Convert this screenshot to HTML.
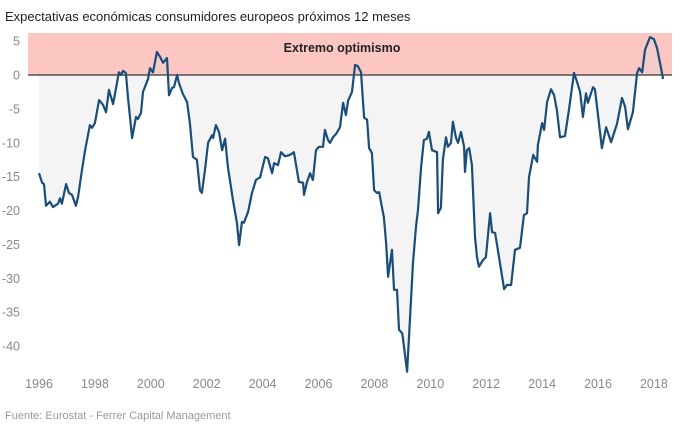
<!DOCTYPE html>
<html><head><meta charset="utf-8"><style>
html,body{margin:0;padding:0;background:#fff;}
body{width:680px;height:431px;overflow:hidden;font-family:"Liberation Sans",sans-serif;}
</style></head><body>
<svg id="chart" width="680" height="431" viewBox="0 0 680 431" xmlns="http://www.w3.org/2000/svg">
<text x="5" y="21" font-size="13" fill="#222" font-family="Liberation Sans, sans-serif">Expectativas económicas consumidores europeos próximos 12 meses</text>
<rect x="28" y="33" width="644" height="42" fill="#fcc7c3"/>
<text x="342" y="52" font-size="12.5" font-weight="bold" fill="#222" text-anchor="middle" font-family="Liberation Sans, sans-serif">Extremo optimismo</text>
<g id="yticks"></g><g id="xticks"></g>
<path id="area" fill="#d9d9d9" fill-opacity="0.3"/>
<line id="zero" x1="28" x2="672" stroke="#333" stroke-width="1.2"/>
<path id="line" fill="none" stroke="#1a4d78" stroke-width="2.2" stroke-linejoin="round"/>
<text x="5" y="419" font-size="11" fill="#999" font-family="Liberation Sans, sans-serif">Fuente: Eurostat - Ferrer Capital Management</text>
</svg>
<script>
const years=[1996.00,1996.11,1996.18,1996.25,1996.39,1996.50,1996.68,1996.75,1996.82,1996.97,1997.07,1997.18,1997.32,1997.40,1997.54,1997.65,1997.82,1997.90,1998.00,1998.15,1998.29,1998.40,1998.50,1998.65,1998.76,1998.86,1998.93,1999.01,1999.11,1999.18,1999.33,1999.47,1999.54,1999.65,1999.72,1999.90,1999.97,2000.08,2000.22,2000.33,2000.44,2000.58,2000.65,2000.76,2000.83,2000.94,2001.01,2001.15,2001.30,2001.40,2001.51,2001.65,2001.76,2001.83,2001.94,2002.05,2002.19,2002.23,2002.33,2002.44,2002.55,2002.66,2002.76,2002.94,2003.08,2003.16,2003.26,2003.33,2003.48,2003.62,2003.76,2003.91,2004.09,2004.19,2004.34,2004.41,2004.55,2004.66,2004.80,2004.98,2005.12,2005.30,2005.45,2005.48,2005.59,2005.70,2005.80,2005.91,2006.02,2006.16,2006.23,2006.34,2006.41,2006.52,2006.63,2006.77,2006.88,2006.98,2007.06,2007.20,2007.31,2007.41,2007.52,2007.63,2007.74,2007.81,2007.91,2007.99,2008.09,2008.17,2008.27,2008.34,2008.42,2008.49,2008.56,2008.63,2008.70,2008.81,2008.88,2008.99,2009.02,2009.17,2009.27,2009.38,2009.49,2009.56,2009.67,2009.77,2009.88,2009.95,2010.06,2010.24,2010.28,2010.38,2010.45,2010.56,2010.63,2010.74,2010.81,2010.92,2010.99,2011.10,2011.21,2011.24,2011.31,2011.39,2011.49,2011.60,2011.67,2011.74,2011.89,2011.99,2012.14,2012.21,2012.32,2012.49,2012.64,2012.74,2012.89,2013.03,2013.21,2013.35,2013.46,2013.53,2013.68,2013.82,2013.85,2014.00,2014.07,2014.18,2014.32,2014.43,2014.53,2014.64,2014.82,2014.96,2015.14,2015.25,2015.36,2015.46,2015.57,2015.64,2015.82,2015.89,2016.00,2016.14,2016.29,2016.47,2016.68,2016.86,2016.97,2017.07,2017.25,2017.40,2017.47,2017.58,2017.68,2017.86,2018.00,2018.11,2018.22,2018.33];
const values=[-14.5,-15.9,-16.1,-19.3,-18.7,-19.5,-19.0,-18.2,-19.0,-16.1,-17.4,-17.7,-19.3,-18.0,-14.0,-11.1,-7.4,-7.8,-7.1,-3.7,-4.4,-5.5,-2.2,-4.3,-1.9,0.4,0,0.6,0.3,-3.2,-9.3,-6.2,-6.5,-5.6,-2.5,-0.6,1.0,0.4,3.4,2.7,1.8,2.5,-3.0,-1.9,-1.8,0,-1.2,-2.8,-4.0,-7.1,-12.1,-12.5,-17.0,-17.4,-14.0,-10.0,-8.9,-9.3,-7.4,-8.4,-11.1,-9.4,-13.6,-18.5,-21.8,-25.1,-21.7,-21.8,-20.2,-17.4,-15.5,-15.1,-12.1,-12.3,-14.5,-13.0,-13.3,-11.4,-12.0,-11.8,-11.4,-15.8,-15.9,-17.7,-15.8,-14.5,-15.5,-11.1,-10.6,-10.6,-8.1,-9.6,-10.0,-9.2,-8.7,-7.7,-4.1,-5.9,-3.8,-2.5,1.5,1.3,0.4,-6.3,-6.6,-10.8,-11.5,-17.0,-17.4,-17.3,-19.5,-21.0,-24.8,-29.8,-27.7,-25.8,-31.7,-31.7,-37.6,-38.1,-38.8,-43.8,-36.2,-27.7,-22.4,-19.9,-13.6,-9.6,-9.4,-8.4,-11.1,-11.4,-20.4,-19.6,-12.5,-9.2,-10.6,-10.0,-6.9,-9.3,-10.0,-8.4,-10.6,-14.3,-11.1,-10.8,-13.3,-23.9,-26.9,-28.3,-27.3,-26.9,-20.4,-23.2,-23.3,-27.7,-31.6,-31.0,-31.0,-25.8,-25.5,-20.7,-20.4,-15.1,-11.8,-12.8,-10.3,-7.1,-8.1,-4.0,-2.1,-3.0,-5.2,-9.2,-9.0,-5.2,0.3,-1.0,-2.5,-6.2,-2.7,-4.1,-1.8,-2.1,-5.9,-10.8,-7.7,-9.9,-7.2,-3.4,-4.7,-8.0,-5.5,0.3,1.0,0.4,3.7,5.6,5.3,4.0,1.8,-0.6];
const yTickValues=[5,0,-5,-10,-15,-20,-25,-30,-35,-40];
const xTickYears=[1996,1998,2000,2002,2004,2006,2008,2010,2012,2014,2016,2018];

const X=y=>39+(y-1996)*27.95;
const Y=v=>75-v*6.775;
const NS="http://www.w3.org/2000/svg";
const yt=document.getElementById('yticks');
yTickValues.forEach(v=>{
  const t=document.createElementNS(NS,'text');
  
  
  t.setAttribute('x',20);t.setAttribute('y',Y(v)+4.5);
  t.setAttribute('text-anchor','end');t.setAttribute('font-size','12.5');t.setAttribute('fill','#888');
  t.textContent=v;yt.appendChild(t);
});
const xt=document.getElementById('xticks');
xTickYears.forEach(yr=>{
  const t=document.createElementNS(NS,'text');
  
  
  t.setAttribute('x',X(yr));t.setAttribute('y',388);
  t.setAttribute('text-anchor','middle');t.setAttribute('font-size','12.5');t.setAttribute('fill','#888');
  t.textContent=yr;xt.appendChild(t);
});
document.getElementById('zero').setAttribute('y1',Y(0));
document.getElementById('zero').setAttribute('y2',Y(0));
let d='';
years.forEach((yr,i)=>{d+=(i?'L':'M')+X(yr).toFixed(1)+' '+Y(values[i]).toFixed(1);});
document.getElementById('line').setAttribute('d',d);
const n=years.length-1;
document.getElementById('area').setAttribute('d',d+'L'+X(years[n]).toFixed(1)+' '+Y(0)+'L'+X(years[0]).toFixed(1)+' '+Y(0)+'Z');
</script>
</body></html>
